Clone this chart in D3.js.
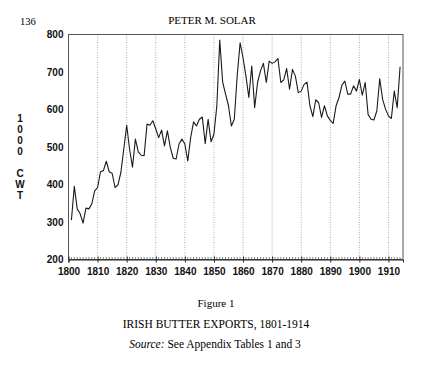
<!DOCTYPE html>
<html>
<head>
<meta charset="utf-8">
<script src="https://cdn.jsdelivr.net/npm/d3@7"></script>
<style>
  body { margin: 0; background: #fff; }
  svg { display: block; }
</style>
</head>
<body>
<div id="chart"></div>
<script>
// Irish butter exports, thousand cwt, 1801-1914
const years = d3.range(1801, 1915);
const exports = [
  305, 395, 335, 322, 297, 337, 335, 348, 383, 392,
  434, 437, 462, 434, 430, 392, 399, 432, 494, 558,
  494, 446, 521, 487, 478, 477, 561, 558, 570, 548,
  525, 545, 503, 543, 499, 470, 468, 508, 521, 508,
  463, 525, 567, 556, 574, 580, 509, 574, 514, 534,
  610, 785, 673, 641, 610, 556, 574, 690, 778, 738,
  689, 632, 716, 605, 672, 703, 723, 672, 729, 723,
  727, 736, 672, 679, 709, 654, 707, 689, 645, 649,
  667, 673, 610, 581, 626, 618, 579, 610, 583, 571,
  563, 610, 632, 665, 676, 641, 641, 663, 649, 680,
  638, 672, 587, 574, 572, 596, 682, 627, 601, 583,
  576, 649, 605, 714
];
const yTicks = [200, 300, 400, 500, 600, 700, 800];
const xTicks = d3.range(1800, 1911, 10);
const axisTitle = ["1", "0", "0", "0", "", "C", "W", "T"];

const W = 431, H = 376;
const margin = { top: 34.5, right: 28, bottom: 116.5, left: 68.5 },
      width = W - margin.left - margin.right,
      height = H - margin.top - margin.bottom;

const svg = d3.select("#chart")
  .append("svg")
    .attr("width", W)
    .attr("height", H);

const g = svg.append("g")
    .attr("transform", `translate(${margin.left},${margin.top})`);

const x = d3.scaleLinear().domain([1800, 1915]).range([0, width]);
const y = d3.scaleLinear().domain([200, 800]).range([height, 0]);

// dotted decade gridlines
g.append("g")
  .selectAll("line")
  .data(xTicks.slice(1))
  .join("line")
    .attr("x1", d => x(d)).attr("x2", d => x(d))
    .attr("y1", 0).attr("y2", height)
    .attr("stroke", "#999")
    .attr("stroke-width", 0.8)
    .attr("stroke-dasharray", "1,1.5");

// frame
g.append("rect")
  .attr("width", width)
  .attr("height", height)
  .attr("fill", "none")
  .attr("stroke", "#555")
  .attr("stroke-width", 1);

// bottom axis: labelled decades, yearly minor ticks pointing up
const xAxis = g.append("g")
  .attr("transform", `translate(0,${height})`)
  .call(d3.axisBottom(x).tickValues(xTicks).tickSize(3).tickFormat(d3.format("d")));
xAxis.select(".domain").attr("stroke", "#222");
xAxis.selectAll(".tick line").attr("y1", -3).attr("stroke", "#222");
xAxis.selectAll("text")
  .attr("dy", "0.9em")
  .style("font-family", "'Liberation Sans', Arial, sans-serif")
  .style("font-weight", "bold")
  .style("font-size", "10px")
  .attr("fill", "#111");

g.append("g")
  .attr("transform", `translate(0,${height})`)
  .selectAll("line")
  .data(d3.range(1801, 1915).filter(d => d % 10 !== 0))
  .join("line")
    .attr("x1", d => x(d)).attr("x2", d => x(d))
    .attr("y1", 0).attr("y2", -2.5)
    .attr("stroke", "#333")
    .attr("stroke-width", 0.6);

// left axis labels only
const yAxis = g.append("g")
  .call(d3.axisLeft(y).tickValues(yTicks).tickSize(0).tickPadding(5));
yAxis.select(".domain").remove();
yAxis.selectAll("text")
  .style("font-family", "'Liberation Sans', Arial, sans-serif")
  .style("font-weight", "bold")
  .style("font-size", "10px")
  .attr("fill", "#111");

// data line
const line = d3.line()
  .x((d, i) => x(years[i]))
  .y(d => y(d));

g.append("path")
  .datum(exports)
  .attr("fill", "none")
  .attr("stroke", "#1a1a1a")
  .attr("stroke-width", 1.1)
  .attr("stroke-linejoin", "round")
  .attr("d", line);

// stacked y-axis title
svg.append("g")
  .selectAll("text")
  .data(axisTitle)
  .join("text")
    .attr("x", 20)
    .attr("y", (d, i) => 122 + i * 11)
    .attr("text-anchor", "middle")
    .style("font-family", "'Liberation Sans', Arial, sans-serif")
    .style("font-weight", "bold")
    .style("font-size", "10px")
    .attr("fill", "#111")
    .text(d => d);

// page header and caption
const serif = "'Liberation Serif', 'Times New Roman', serif";
svg.append("text")
  .attr("x", 20).attr("y", 25)
  .style("font-family", serif).style("font-size", "10.5px")
  .text("136");

svg.append("text")
  .attr("x", 212).attr("y", 24)
  .attr("text-anchor", "middle")
  .style("font-family", serif).style("font-size", "11px")
  .text("PETER M. SOLAR");

svg.append("text")
  .attr("x", 216).attr("y", 307)
  .attr("text-anchor", "middle")
  .style("font-family", serif).style("font-size", "11px")
  .text("Figure 1");

svg.append("text")
  .attr("x", 216).attr("y", 328)
  .attr("text-anchor", "middle")
  .style("font-family", serif).style("font-size", "11.5px")
  .text("IRISH BUTTER EXPORTS, 1801-1914");

const src = svg.append("text")
  .attr("x", 215).attr("y", 348)
  .attr("text-anchor", "middle")
  .style("font-family", serif).style("font-size", "11.5px");
src.append("tspan").style("font-style", "italic").text("Source:");
src.append("tspan").text(" See Appendix Tables 1 and 3");
</script>
</body>
</html>
